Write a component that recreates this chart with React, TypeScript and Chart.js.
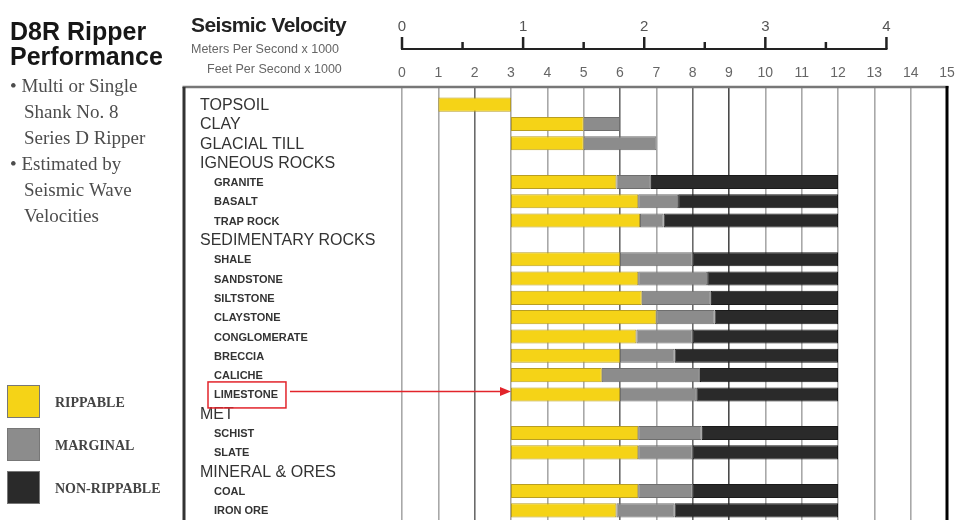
import React, { useEffect, useRef } from 'react';
import { Chart, registerables } from 'chart.js';

Chart.register(...registerables);

const categories = [
  'TOPSOIL', 'CLAY', 'GLACIAL TILL', 'IGNEOUS ROCKS', 'GRANITE', 'BASALT', 'TRAP ROCK',
  'SEDIMENTARY ROCKS', 'SHALE', 'SANDSTONE', 'SILTSTONE', 'CLAYSTONE', 'CONGLOMERATE',
  'BRECCIA', 'CALICHE', 'LIMESTONE', 'MET', 'SCHIST', 'SLATE', 'MINERAL & ORES', 'COAL', 'IRON ORE',
];
// 0 = group heading, 1 = rock type (indented)
const labelLevels = [0, 0, 0, 0, 1, 1, 1, 0, 1, 1, 1, 1, 1, 1, 1, 1, 0, 1, 1, 0, 1, 1];

type Range = [number, number] | null;
const rippable: Range[] = [
  [1, 3], [3, 5], [3, 5], null, [3, 5.9], [3, 6.5], [3, 6.55], null, [3, 6], [3, 6.5], [3, 6.6],
  [3, 7], [3, 6.45], [3, 6], [3, 5.5], [3, 6], null, [3, 6.5], [3, 6.5], null, [3, 6.5], [3, 5.9],
];
const marginal: Range[] = [
  null, [5, 6], [5, 7], null, [5.9, 6.85], [6.5, 7.6], [6.55, 7.2], null, [6, 8], [6.5, 8.4], [6.6, 8.5],
  [7, 8.6], [6.45, 8], [6, 7.5], [5.5, 8.2], [6, 8.1], null, [6.5, 8.25], [6.5, 8], null, [6.5, 8], [5.9, 7.5],
];
const nonRippable: Range[] = [
  null, null, null, null, [6.85, 12], [7.6, 12], [7.2, 12], null, [8, 12], [8.4, 12], [8.5, 12],
  [8.6, 12], [8, 12], [7.5, 12], [8.2, 12], [8.1, 12], null, [8.25, 12], [8, 12], null, [8, 12], [7.5, 12],
];

const seriesNames = ['RIPPABLE', 'MARGINAL', 'NON-RIPPABLE'];
const seriesColors = ['#F5D317', '#8C8C8C', '#2A2A2A'];
const seriesBorders = ['#B89E22', '#6E6E6E', '#1A1A1A'];

const feetTicks = [0, 1, 2, 3, 4, 5, 6, 7, 8, 9, 10, 11, 12, 13, 14, 15];
const meterTicks = [0, 0.5, 1, 1.5, 2, 2.5, 3, 3.5, 4];

const titleLines = ['D8R Ripper', 'Performance'];
const bulletLines = [
  { text: '\u2022 Multi or Single', indent: 0 },
  { text: 'Shank No. 8', indent: 1 },
  { text: 'Series D Ripper', indent: 1 },
  { text: '\u2022 Estimated by', indent: 0 },
  { text: 'Seismic Wave', indent: 1 },
  { text: 'Velocities', indent: 1 },
];
const axisTitle = 'Seismic Velocity';
const meterUnit = 'Meters Per Second x 1000';
const feetUnit = 'Feet Per Second x 1000';
const highlighted = 'LIMESTONE';

const SANS = '"Liberation Sans", Arial, Helvetica, sans-serif';
const SERIF = '"Liberation Serif", "Times New Roman", serif';
const FEET_TICK_LEN = 8;

const gridColor = (v: number) => {
  if (v === 9) return '#4a4a4a';
  if (v === 2 || v === 6 || v === 8) return '#6a6a6a';
  return '#a8a8a8';
};

const decorPlugin = {
  id: 'decor',
  afterDraw(chart: any) {
    const ctx: CanvasRenderingContext2D = chart.ctx;
    const xs = chart.scales.x;
    const ys = chart.scales.y;
    const ms = chart.scales.m;
    const area = chart.chartArea;
    const boxTop = area.top - FEET_TICK_LEN;
    const boxLeft = 184;
    ctx.save();

    // frame
    ctx.strokeStyle = '#777';
    ctx.lineWidth = 2.5;
    ctx.beginPath();
    ctx.moveTo(boxLeft - 1.5, boxTop);
    ctx.lineTo(area.right + 1.5, boxTop);
    ctx.stroke();
    ctx.strokeStyle = '#333';
    ctx.lineWidth = 3;
    ctx.beginPath();
    ctx.moveTo(boxLeft, boxTop);
    ctx.lineTo(boxLeft, chart.height);
    ctx.stroke();
    ctx.strokeStyle = '#000';
    ctx.beginPath();
    ctx.moveTo(area.right, boxTop - 1);
    ctx.lineTo(area.right, chart.height);
    ctx.stroke();

    // meters axis line and ticks
    const mY = ms.bottom;
    ctx.strokeStyle = '#222';
    ctx.lineWidth = 2;
    ctx.beginPath();
    ctx.moveTo(ms.getPixelForValue(meterTicks[0]) - 1, mY);
    ctx.lineTo(ms.getPixelForValue(meterTicks[meterTicks.length - 1]) + 1, mY);
    ctx.stroke();
    ctx.lineWidth = 2.5;
    meterTicks.forEach((v) => {
      const px = ms.getPixelForValue(v);
      const len = Number.isInteger(v) ? 12 : 7;
      ctx.beginPath();
      ctx.moveTo(px, mY);
      ctx.lineTo(px, mY - len);
      ctx.stroke();
    });

    // category labels
    ctx.fillStyle = '#333';
    ctx.textBaseline = 'middle';
    ctx.textAlign = 'left';
    categories.forEach((c, i) => {
      const py = ys.getPixelForValue(i) + 1;
      if (labelLevels[i] === 0) {
        ctx.font = `16px ${SANS}`;
        ctx.fillText(c, 200, py);
      } else {
        ctx.font = `bold 11px ${SANS}`;
        ctx.fillText(c, 214, py);
      }
    });

    // highlight annotation
    const hi = categories.indexOf(highlighted);
    if (hi >= 0) {
      ctx.font = `bold 11px ${SANS}`;
      const w = ctx.measureText(highlighted).width;
      const cy = ys.getPixelForValue(hi);
      ctx.strokeStyle = '#E2242B';
      ctx.fillStyle = '#E2242B';
      ctx.lineWidth = 1.5;
      ctx.strokeRect(208, cy - 12.5, w + 14, 26);
      const ay = cy - 3;
      const tipX = xs.getPixelForValue(3);
      ctx.beginPath();
      ctx.moveTo(208 + w + 18, ay);
      ctx.lineTo(tipX - 8, ay);
      ctx.stroke();
      ctx.beginPath();
      ctx.moveTo(tipX, ay);
      ctx.lineTo(tipX - 11, ay - 4.5);
      ctx.lineTo(tipX - 11, ay + 4.5);
      ctx.closePath();
      ctx.fill();
    }

    // left panel text
    ctx.textBaseline = 'alphabetic';
    ctx.fillStyle = '#161616';
    ctx.font = `bold 25px ${SANS}`;
    titleLines.forEach((t, i) => ctx.fillText(t, 10, 40 + i * 25));

    ctx.fillStyle = '#4d4d4d';
    ctx.font = `19px ${SERIF}`;
    bulletLines.forEach((b, i) => ctx.fillText(b.text, b.indent ? 24 : 10, 92 + i * 26));

    // axis titles
    ctx.fillStyle = '#222';
    ctx.font = `bold 21px ${SANS}`;
    (ctx as any).letterSpacing = '-0.6px';
    ctx.fillText(axisTitle, 191, 32);
    (ctx as any).letterSpacing = '0px';
    ctx.fillStyle = '#666';
    ctx.font = `12.5px ${SANS}`;
    ctx.fillText(meterUnit, 191, 53);
    ctx.fillText(feetUnit, 207, 73);

    // legend
    const legendTops = [385, 428, 471];
    seriesNames.forEach((name, i) => {
      ctx.fillStyle = seriesColors[i];
      ctx.fillRect(7, legendTops[i], 33, 33);
      ctx.strokeStyle = '#777';
      ctx.lineWidth = 1;
      ctx.strokeRect(7.5, legendTops[i] + 0.5, 32, 32);
      ctx.fillStyle = '#444';
      ctx.font = `bold 14px ${SERIF}`;
      ctx.fillText(name, 55, legendTops[i] + 22);
    });

    ctx.restore();
  },
};

export default function App() {
  const canvasRef = useRef<HTMLCanvasElement | null>(null);

  useEffect(() => {
    if (!canvasRef.current) return;
    Chart.defaults.font.family = SANS;
    const series = [rippable, marginal, nonRippable];
    const chart = new Chart(canvasRef.current, {
      type: 'bar',
      data: {
        labels: categories,
        datasets: series.map((d, i) => ({
          label: seriesNames[i],
          data: d as any,
          backgroundColor: seriesColors[i],
          borderColor: seriesBorders[i],
          borderWidth: 1,
          borderSkipped: false,
          grouped: false,
          barPercentage: 0.73,
          categoryPercentage: 1,
        })),
      },
      options: {
        indexAxis: 'y',
        animation: false,
        responsive: false,
        devicePixelRatio: 1,
        layout: { padding: { left: 402, right: 16, top: 9, bottom: 20 } },
        plugins: {
          legend: { display: false },
          tooltip: { enabled: false },
        },
        scales: {
          y: {
            type: 'category',
            display: false,
            offset: true,
          },
          x: {
            type: 'linear',
            position: 'top',
            min: 0,
            max: 15,
            weight: 0,
            afterBuildTicks: (s: any) => {
              s.ticks = feetTicks.map((v) => ({ value: v }));
            },
            afterFit: (s: any) => {
              s.height = 46;
            },
            ticks: {
              autoSkip: false,
              maxRotation: 0,
              padding: 5.5,
              color: '#666',
              font: { size: 14 },
              callback: (v: any) => String(v),
            },
            grid: {
              drawTicks: true,
              tickLength: FEET_TICK_LEN,
              lineWidth: 1.6,
              color: (c: any) => gridColor(c.tick ? c.tick.value : 0),
            },
            border: { display: false },
          },
          m: {
            type: 'linear',
            position: 'top',
            axis: 'x',
            min: 0,
            max: 4.5,
            weight: 10,
            afterBuildTicks: (s: any) => {
              s.ticks = meterTicks.map((v) => ({ value: v }));
            },
            afterFit: (s: any) => {
              s.height = 40;
            },
            ticks: {
              autoSkip: false,
              maxRotation: 0,
              padding: 5,
              color: '#555',
              font: { size: 15 },
              callback: (v: any) => (Number.isInteger(v) ? String(v) : ''),
            },
            grid: { display: false },
            border: { display: false },
          },
        },
      },
      plugins: [decorPlugin],
    } as any);
    return () => chart.destroy();
  }, []);

  return (
    <div
      style={{
        position: 'fixed',
        left: 0,
        top: 0,
        width: 963,
        height: 520,
        overflow: 'hidden',
        background: '#fff',
      }}
    >
      <canvas ref={canvasRef} width={963} height={540} style={{ display: 'block' }} />
    </div>
  );
}
